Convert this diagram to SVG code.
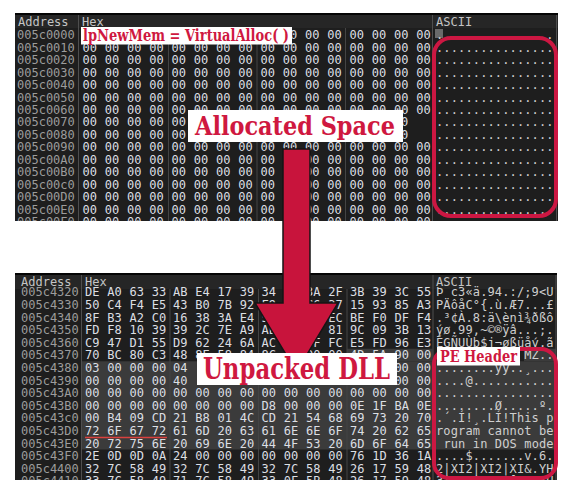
<svg xmlns="http://www.w3.org/2000/svg" width="580" height="496" viewBox="0 0 580 496">
<style>
.bg{fill:#1e1e1e}
.hd{fill:#262626}
.edge{fill:#050505}
.sep{stroke:#4e4e4e;stroke-width:1}
.gsep{stroke:#444;stroke-width:1}
.mono{font-family:"DejaVu Sans Mono","Liberation Mono",monospace;font-size:12px}
.head{fill:#c4c4c4}
.addr{fill:#9c9c9c}
.hex{fill:#dcdfe3;word-spacing:0.55px}
.asc{fill:#cfcfcf;letter-spacing:0.13px}
.hl{fill:#3b3b3b}
.frame{fill:none;stroke:#cc1742;stroke-width:4}
.box{fill:#ffffff}
.lbl{fill:#cf1840;font-family:"DejaVu Serif","Liberation Serif",serif;font-weight:bold}
.arrow{fill:#c8143c;stroke:#151515;stroke-width:1.5;stroke-linejoin:miter}
</style>
<defs>
<clipPath id="clipTop"><rect x="15" y="13" width="543" height="208"/></clipPath>
<clipPath id="clipBot"><rect x="15" y="273" width="542" height="207"/></clipPath>
</defs>
<rect width="580" height="496" fill="#ffffff"/>

<g id="top-panel" clip-path="url(#clipTop)">
<rect class="bg" x="15" y="13" width="543" height="208"/>
<rect class="hd" x="15" y="13" width="543" height="15"/>
<rect class="edge" x="15" y="13" width="543" height="2"/>
<line class="sep" x1="78.5" y1="15" x2="78.5" y2="221"/>
<line class="gsep" x1="168.5" y1="28" x2="168.5" y2="221"/>
<line class="gsep" x1="257" y1="28" x2="257" y2="221"/>
<line class="gsep" x1="345.5" y1="28" x2="345.5" y2="221"/>
<line class="sep" x1="432.5" y1="15" x2="432.5" y2="221"/>
<line class="sep" x1="556.5" y1="15" x2="556.5" y2="221"/>
<rect x="435" y="29" width="8" height="9" fill="#6a6a6a"/>
<g class="mono">
<text class="head" x="18" y="25.5">Address</text>
<text class="head" x="82" y="25.5">Hex</text>
<text class="head" x="436" y="25.5">ASCII</text>
<g class="addr">
<text x="17" y="39.3">005c0000</text>
<text x="17" y="51.75">005c0010</text>
<text x="17" y="64.2">005c0020</text>
<text x="17" y="76.65">005c0030</text>
<text x="17" y="89.1">005c0040</text>
<text x="17" y="101.55">005c0050</text>
<text x="17" y="114">005c0060</text>
<text x="17" y="126.45">005c0070</text>
<text x="17" y="138.9">005c0080</text>
<text x="17" y="151.35">005c0090</text>
<text x="17" y="163.8">005c00A0</text>
<text x="17" y="176.25">005c00B0</text>
<text x="17" y="188.7">005c00c0</text>
<text x="17" y="201.15">005c00D0</text>
<text x="17" y="213.6">005c00E0</text>
<text x="17" y="226.05">005c00F0</text>
</g>
<g class="hex">
<text y="39.3"><tspan x="260.5">00 00 00 00</tspan><tspan x="349.5">00 00 00 00</tspan></text>
<text y="51.75"><tspan x="82.5">00 00 00 00</tspan><tspan x="171.5">00 00 00 00</tspan><tspan x="260.5">00 00 00 00</tspan><tspan x="349.5">00 00 00 00</tspan></text>
<text y="64.2"><tspan x="82.5">00 00 00 00</tspan><tspan x="171.5">00 00 00 00</tspan><tspan x="260.5">00 00 00 00</tspan><tspan x="349.5">00 00 00 00</tspan></text>
<text y="76.65"><tspan x="82.5">00 00 00 00</tspan><tspan x="171.5">00 00 00 00</tspan><tspan x="260.5">00 00 00 00</tspan><tspan x="349.5">00 00 00 00</tspan></text>
<text y="89.1"><tspan x="82.5">00 00 00 00</tspan><tspan x="171.5">00 00 00 00</tspan><tspan x="260.5">00 00 00 00</tspan><tspan x="349.5">00 00 00 00</tspan></text>
<text y="101.55"><tspan x="82.5">00 00 00 00</tspan><tspan x="171.5">00 00 00 00</tspan><tspan x="260.5">00 00 00 00</tspan><tspan x="349.5">00 00 00 00</tspan></text>
<text y="114"><tspan x="82.5">00 00 00 00</tspan><tspan x="171.5">00 00 00 00</tspan><tspan x="260.5">00 00 00 00</tspan><tspan x="349.5">00 00 00 00</tspan></text>
<text y="126.45"><tspan x="82.5">00 00 00 00</tspan><tspan x="171.5">00</tspan><tspan x="393.9">00</tspan></text>
<text y="138.9"><tspan x="82.5">00 00 00 00</tspan><tspan x="171.5">00</tspan><tspan x="393.9">00</tspan></text>
<text y="151.35"><tspan x="82.5">00 00 00 00</tspan><tspan x="171.5">00 00 00 00</tspan><tspan x="260.5">00 00 00 00</tspan><tspan x="349.5">00 00 00 00</tspan></text>
<text y="163.8"><tspan x="82.5">00 00 00 00</tspan><tspan x="171.5">00 00 00 00</tspan><tspan x="260.5">00 00 00 00</tspan><tspan x="349.5">00 00 00 00</tspan></text>
<text y="176.25"><tspan x="82.5">00 00 00 00</tspan><tspan x="171.5">00 00 00 00</tspan><tspan x="260.5">00 00 00 00</tspan><tspan x="349.5">00 00 00 00</tspan></text>
<text y="188.7"><tspan x="82.5">00 00 00 00</tspan><tspan x="171.5">00 00 00 00</tspan><tspan x="260.5">00 00 00 00</tspan><tspan x="349.5">00 00 00 00</tspan></text>
<text y="201.15"><tspan x="82.5">00 00 00 00</tspan><tspan x="171.5">00 00 00 00</tspan><tspan x="260.5">00 00 00 00</tspan><tspan x="349.5">00 00 00 00</tspan></text>
<text y="213.6"><tspan x="82.5">00 00 00 00</tspan><tspan x="171.5">00 00 00 00</tspan><tspan x="260.5">00 00 00 00</tspan><tspan x="349.5">00 00 00 00</tspan></text>
<text y="226.05"><tspan x="82.5">00 00 00 00</tspan><tspan x="171.5">00 00 00 00</tspan><tspan x="260.5">00 00 00 00</tspan><tspan x="349.5">00 00 00 00</tspan></text>
</g>
<g class="asc">
<text x="436" y="39.3">................</text>
<text x="436" y="51.75">................</text>
<text x="436" y="64.2">................</text>
<text x="436" y="76.65">................</text>
<text x="436" y="89.1">................</text>
<text x="436" y="101.55">................</text>
<text x="436" y="114">................</text>
<text x="436" y="126.45">................</text>
<text x="436" y="138.9">................</text>
<text x="436" y="151.35">................</text>
<text x="436" y="163.8">................</text>
<text x="436" y="176.25">................</text>
<text x="436" y="188.7">................</text>
<text x="436" y="201.15">................</text>
<text x="436" y="213.6">................</text>
<text x="436" y="226.05">................</text>
</g>
</g>
</g>
<rect id="alloc-frame" class="frame" x="434" y="38" width="122" height="178" rx="17"/>

<g id="bottom-panel" clip-path="url(#clipBot)">
<rect class="bg" x="15" y="273" width="542" height="207"/>
<rect class="hd" x="15" y="273" width="542" height="16"/>
<rect class="edge" x="15" y="273" width="542" height="2"/>
<rect class="hl" x="347" y="348.7" width="85.5" height="12.6"/>
<rect class="hl" x="82" y="361.3" width="350.5" height="88.2"/>
<rect class="hl" x="524" y="348.7" width="32" height="12.6"/>
<rect class="hl" x="433.5" y="361.3" width="122.5" height="88.2"/>
<line class="sep" x1="81.5" y1="275" x2="81.5" y2="480"/>
<line class="gsep" x1="170" y1="289" x2="170" y2="480"/>
<line class="gsep" x1="258.5" y1="289" x2="258.5" y2="480"/>
<line class="gsep" x1="347" y1="289" x2="347" y2="480"/>
<line class="sep" x1="433" y1="275" x2="433" y2="480"/>
<line class="sep" x1="556" y1="275" x2="556" y2="480"/>
<g class="mono">
<text class="head" x="21" y="285.5">Address</text>
<text class="head" x="85" y="285.5">Hex</text>
<text class="head" x="436" y="285.5">ASCII</text>
<g class="addr">
<text x="21" y="296.3">005c4320</text>
<text x="21" y="308.9">005c4330</text>
<text x="21" y="321.5">005c4340</text>
<text x="21" y="334.1">005c4350</text>
<text x="21" y="346.7">005c4360</text>
<text x="21" y="359.3">005c4370</text>
<text x="21" y="371.9">005c4380</text>
<text x="21" y="384.5">005c4390</text>
<text x="21" y="397.1">005c43A0</text>
<text x="21" y="409.7">005c43B0</text>
<text x="21" y="422.3">005c43c0</text>
<text x="21" y="434.9">005c43D0</text>
<text x="21" y="447.5">005c43E0</text>
<text x="21" y="460.1">005c43F0</text>
<text x="21" y="472.7">005c4400</text>
<text x="21" y="485.3">005c4410</text>
</g>
<g class="hex">
<text y="296.3"><tspan x="85">DE A0 63 33</tspan><tspan x="173">AB E4 17 39</tspan><tspan x="261.5">34 0D 3A 2F</tspan><tspan x="350">3B 39 3C 55</tspan></text>
<text y="308.9"><tspan x="85">50 C4 F4 E5</tspan><tspan x="173">43 B0 7B 92</tspan><tspan x="261.5">F9 8D C6 37</tspan><tspan x="350">15 93 85 A3</tspan></text>
<text y="321.5"><tspan x="85">8F B3 A2 C0</tspan><tspan x="173">16 38 3A E4</tspan><tspan x="261.5">5C E8 6E EC</tspan><tspan x="350">BE F0 DF F4</tspan></text>
<text y="334.1"><tspan x="85">FD F8 10 39</tspan><tspan x="173">39 2C 7E A9</tspan><tspan x="261.5">AE FF E2 81</tspan><tspan x="350">9C 09 3B 13</tspan></text>
<text y="346.7"><tspan x="85">C9 47 D1 55</tspan><tspan x="173">D9 62 24 6A</tspan><tspan x="261.5">AC F8 DF FC</tspan><tspan x="350">E5 FD 96 E3</tspan></text>
<text y="359.3"><tspan x="85">70 BC 80 C3</tspan><tspan x="173">48 8E 58 84</tspan><tspan x="261.5">8C FF 00 00</tspan><tspan x="350">4D 5A 90 00</tspan></text>
<text y="371.9"><tspan x="85">03 00 00 00</tspan><tspan x="173">04</tspan><tspan x="394.4">00</tspan><tspan x="416.6">00</tspan></text>
<text y="384.5"><tspan x="85">00 00 00 00</tspan><tspan x="173">40</tspan><tspan x="394.4">00</tspan><tspan x="416.6">00</tspan></text>
<text y="397.1"><tspan x="85">00 00 00 00</tspan><tspan x="173">00 00 00 00</tspan><tspan x="261.5">00 00 00 00</tspan><tspan x="350">00 00 00 00</tspan></text>
<text y="409.7"><tspan x="85">00 00 00 00</tspan><tspan x="173">00 00 00 00</tspan><tspan x="261.5">D8 00 00 00</tspan><tspan x="350">0E 1F BA 0E</tspan></text>
<text y="422.3"><tspan x="85">00 B4 09 CD</tspan><tspan x="173">21 B8 01 4C</tspan><tspan x="261.5">CD 21 54 68</tspan><tspan x="350">69 73 20 70</tspan></text>
<text y="434.9"><tspan x="85">72 6F 67 72</tspan><tspan x="173">61 6D 20 63</tspan><tspan x="261.5">61 6E 6E 6F</tspan><tspan x="350">74 20 62 65</tspan></text>
<text y="447.5"><tspan x="85">20 72 75 6E</tspan><tspan x="173">20 69 6E 20</tspan><tspan x="261.5">44 4F 53 20</tspan><tspan x="350">6D 6F 64 65</tspan></text>
<text y="460.1"><tspan x="85">2E 0D 0D 0A</tspan><tspan x="173">24 00 00 00</tspan><tspan x="261.5">00 00 00 00</tspan><tspan x="350">76 1D 36 1A</tspan></text>
<text y="472.7"><tspan x="85">32 7C 58 49</tspan><tspan x="173">32 7C 58 49</tspan><tspan x="261.5">32 7C 58 49</tspan><tspan x="350">26 17 59 48</tspan></text>
<text y="485.3"><tspan x="85">33 7C 58 49</tspan><tspan x="173">71 7C 58 49</tspan><tspan x="261.5">33 0F 5B 48</tspan><tspan x="350">26 17 59 48</tspan></text>
</g>
<g class="asc">
<text x="436" y="296.3">Þ c3«ä.94.:/;9&lt;U</text>
<text x="436" y="308.9">PÄôåC°{.ù.Æ7...£</text>
<text x="436" y="321.5">.³¢À.8:ä\ènì¾ðßô</text>
<text x="436" y="334.1">ýø.99,~©®ÿâ...;.</text>
<text x="436" y="346.7">ÉGÑUÙb$j¬øßüåý.ã</text>
<text x="524.2" y="359.3">MZ..</text>
<text x="436" y="371.9">........ÿÿ..¸...</text>
<text x="436" y="384.5">....@...........</text>
<text x="436" y="397.1">................</text>
<text x="436" y="409.7">........Ø.....º.</text>
<text x="436" y="422.3">.´.Í!¸.LÍ!This p</text>
<text x="436" y="434.9">rogram cannot be</text>
<text x="443.4" y="447.5">run in DOS mode</text>
<text x="436" y="460.1">....$.......v.6.</text>
<text x="436" y="472.7">2|XI2|XI2|XI&amp;.YH</text>
<text x="436" y="485.3">3|XIq|XI3.[H&amp;.YH</text>
</g>
</g>
<line x1="85" y1="437.5" x2="167" y2="437.5" stroke="#d9413f" stroke-width="1.5"/>
</g>
<rect id="pe-frame" class="frame" x="434" y="349" width="122" height="129" rx="15"/>

<g id="connectors">
<path class="arrow" d="M283,149 L310,149 L310,303 L338,303 L296.5,372 L255,303 L283,303 Z"/>
</g>

<g id="label-virtualalloc">
<rect class="box" x="81" y="27" width="211" height="17.5"/>
<text class="lbl" x="83" y="41" font-size="16.5" textLength="206" lengthAdjust="spacingAndGlyphs">lpNewMem = VirtualAlloc( )</text>
</g>
<g id="label-allocated">
<rect class="box" x="188" y="110" width="215" height="32"/>
<text class="lbl" x="195" y="134.5" font-size="26" textLength="200" lengthAdjust="spacingAndGlyphs">Allocated Space</text>
</g>
<g id="label-unpacked">
<rect class="box" x="197" y="353" width="200" height="32"/>
<text class="lbl" x="203" y="379" font-size="29" textLength="187" lengthAdjust="spacingAndGlyphs">Unpacked DLL</text>
</g>
<g id="label-pe">
<rect class="box" x="437" y="347" width="83" height="18.5"/>
<text class="lbl" x="440" y="361.5" font-size="16" textLength="77" lengthAdjust="spacingAndGlyphs">PE Header</text>
</g>
</svg>
